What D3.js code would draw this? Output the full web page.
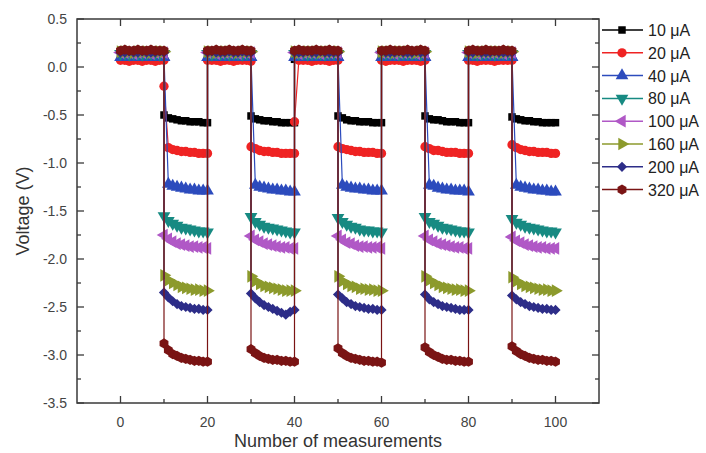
<!DOCTYPE html>
<html>
<head>
<meta charset="utf-8">
<script src="https://cdn.jsdelivr.net/npm/d3@7"></script>
<style>
  body { margin: 0; background: #fff; }
  svg { font-family: "Liberation Sans", Arial, sans-serif; }
</style>
</head>
<body>
<div id="chart"></div>
<script>
// each cycle: 11 points on the high level, then 11 points on the low level
let segmentStarts = [0, 10, 20, 30, 40, 50, 60, 70, 80, 90];

let labels = ['10 μA', '20 μA', '40 μA', '80 μA', '100 μA', '160 μA', '200 μA', '320 μA'];
let colors = ['#000000', '#ef2323', '#2c4bbd', '#178a82', '#b058c6', '#8c9a2c', '#2d2d88', '#7a1414'];

let v10 = [
  [0.09, 0.09, 0.08, 0.09, 0.09, 0.08, 0.09, 0.09, 0.08, 0.09, 0.09],
  [-0.50, -0.53, -0.54, -0.55, -0.56, -0.56, -0.57, -0.57, -0.57, -0.58, -0.58],
  [0.09, 0.09, 0.09, 0.08, 0.09, 0.09, 0.08, 0.09, 0.09, 0.09, 0.08],
  [-0.51, -0.54, -0.55, -0.56, -0.56, -0.57, -0.57, -0.58, -0.58, -0.58, -0.58],
  [0.08, 0.09, 0.09, 0.09, 0.08, 0.09, 0.09, 0.09, 0.08, 0.09, 0.09],
  [-0.51, -0.53, -0.55, -0.56, -0.56, -0.57, -0.57, -0.57, -0.58, -0.58, -0.58],
  [0.09, 0.08, 0.09, 0.09, 0.09, 0.08, 0.09, 0.09, 0.09, 0.08, 0.09],
  [-0.51, -0.54, -0.55, -0.55, -0.56, -0.57, -0.57, -0.57, -0.58, -0.58, -0.58],
  [0.09, 0.09, 0.08, 0.09, 0.09, 0.09, 0.08, 0.09, 0.09, 0.09, 0.09],
  [-0.52, -0.54, -0.55, -0.56, -0.56, -0.57, -0.57, -0.58, -0.58, -0.58, -0.58]
];
let v20 = [
  [0.07, 0.07, 0.06, 0.07, 0.07, 0.06, 0.07, 0.07, 0.06, 0.07, 0.07],
  [-0.20, -0.84, -0.86, -0.87, -0.88, -0.88, -0.89, -0.89, -0.90, -0.90, -0.90],
  [0.07, 0.07, 0.07, 0.06, 0.07, 0.07, 0.06, 0.07, 0.07, 0.07, 0.06],
  [-0.83, -0.85, -0.87, -0.88, -0.88, -0.89, -0.89, -0.90, -0.90, -0.90, -0.90],
  [-0.57, 0.07, 0.07, 0.07, 0.06, 0.07, 0.07, 0.07, 0.06, 0.07, 0.07],
  [-0.83, -0.85, -0.86, -0.87, -0.88, -0.88, -0.89, -0.89, -0.89, -0.90, -0.90],
  [0.07, 0.06, 0.07, 0.07, 0.07, 0.06, 0.07, 0.07, 0.07, 0.06, 0.07],
  [-0.83, -0.85, -0.87, -0.87, -0.88, -0.89, -0.89, -0.89, -0.90, -0.90, -0.90],
  [0.07, 0.07, 0.06, 0.07, 0.07, 0.07, 0.06, 0.07, 0.07, 0.07, 0.07],
  [-0.81, -0.84, -0.86, -0.87, -0.88, -0.88, -0.89, -0.89, -0.89, -0.90, -0.90]
];
let v40 = [
  [0.10, 0.10, 0.10, 0.10, 0.10, 0.10, 0.10, 0.10, 0.10, 0.10, 0.10],
  [0.10, -1.22, -1.24, -1.25, -1.26, -1.27, -1.28, -1.28, -1.29, -1.29, -1.29],
  [0.10, 0.10, 0.10, 0.10, 0.10, 0.10, 0.10, 0.10, 0.10, 0.10, 0.10],
  [0.10, -1.23, -1.25, -1.26, -1.27, -1.28, -1.28, -1.29, -1.29, -1.30, -1.30],
  [0.10, 0.10, 0.10, 0.10, 0.10, 0.10, 0.10, 0.10, 0.10, 0.10, 0.10],
  [0.10, -1.23, -1.25, -1.26, -1.27, -1.27, -1.28, -1.28, -1.29, -1.29, -1.29],
  [0.10, 0.10, 0.10, 0.10, 0.10, 0.10, 0.10, 0.10, 0.10, 0.10, 0.10],
  [0.10, -1.23, -1.24, -1.26, -1.27, -1.28, -1.28, -1.29, -1.29, -1.29, -1.30],
  [0.10, 0.10, 0.10, 0.10, 0.10, 0.10, 0.10, 0.10, 0.10, 0.10, 0.10],
  [0.10, -1.23, -1.25, -1.26, -1.27, -1.28, -1.28, -1.29, -1.29, -1.30, -1.30]
];
let v80 = [
  [0.14, 0.14, 0.13, 0.14, 0.14, 0.13, 0.14, 0.14, 0.14, 0.13, 0.14],
  [-1.55, -1.60, -1.63, -1.65, -1.67, -1.68, -1.69, -1.70, -1.71, -1.71, -1.72],
  [0.14, 0.13, 0.14, 0.14, 0.14, 0.13, 0.14, 0.14, 0.13, 0.14, 0.14],
  [-1.56, -1.61, -1.64, -1.66, -1.67, -1.68, -1.69, -1.70, -1.71, -1.72, -1.72],
  [0.14, 0.14, 0.14, 0.13, 0.14, 0.14, 0.14, 0.13, 0.14, 0.14, 0.14],
  [-1.57, -1.61, -1.64, -1.66, -1.67, -1.69, -1.70, -1.70, -1.71, -1.71, -1.72],
  [0.13, 0.14, 0.14, 0.14, 0.13, 0.14, 0.14, 0.14, 0.14, 0.13, 0.14],
  [-1.56, -1.61, -1.63, -1.65, -1.67, -1.68, -1.69, -1.70, -1.71, -1.71, -1.72],
  [0.14, 0.14, 0.13, 0.14, 0.14, 0.14, 0.13, 0.14, 0.14, 0.14, 0.14],
  [-1.58, -1.62, -1.64, -1.66, -1.67, -1.68, -1.69, -1.70, -1.71, -1.71, -1.72]
];
let v100 = [
  [0.15, 0.15, 0.15, 0.14, 0.15, 0.15, 0.15, 0.14, 0.15, 0.15, 0.15],
  [-1.75, -1.79, -1.82, -1.84, -1.85, -1.86, -1.87, -1.87, -1.88, -1.88, -1.89],
  [0.15, 0.15, 0.14, 0.15, 0.15, 0.15, 0.15, 0.14, 0.15, 0.15, 0.15],
  [-1.76, -1.80, -1.82, -1.84, -1.85, -1.86, -1.87, -1.88, -1.88, -1.89, -1.89],
  [0.15, 0.14, 0.15, 0.15, 0.15, 0.15, 0.14, 0.15, 0.15, 0.15, 0.15],
  [-1.76, -1.80, -1.83, -1.84, -1.86, -1.87, -1.87, -1.88, -1.88, -1.88, -1.89],
  [0.15, 0.15, 0.15, 0.14, 0.15, 0.15, 0.15, 0.15, 0.14, 0.15, 0.15],
  [-1.76, -1.80, -1.82, -1.84, -1.85, -1.86, -1.87, -1.88, -1.88, -1.89, -1.89],
  [0.15, 0.15, 0.14, 0.15, 0.15, 0.15, 0.15, 0.15, 0.14, 0.15, 0.15],
  [-1.77, -1.81, -1.83, -1.85, -1.86, -1.87, -1.88, -1.88, -1.89, -1.89, -1.89]
];
let v160 = [
  [0.16, 0.16, 0.16, 0.15, 0.16, 0.16, 0.16, 0.15, 0.16, 0.16, 0.16],
  [-2.17, -2.22, -2.25, -2.27, -2.29, -2.30, -2.31, -2.32, -2.32, -2.33, -2.33],
  [0.16, 0.16, 0.15, 0.16, 0.16, 0.16, 0.16, 0.15, 0.16, 0.16, 0.16],
  [-2.18, -2.23, -2.26, -2.28, -2.29, -2.30, -2.31, -2.32, -2.33, -2.33, -2.33],
  [0.16, 0.15, 0.16, 0.16, 0.16, 0.16, 0.15, 0.16, 0.16, 0.16, 0.16],
  [-2.18, -2.23, -2.26, -2.28, -2.29, -2.31, -2.31, -2.32, -2.32, -2.33, -2.33],
  [0.16, 0.16, 0.16, 0.15, 0.16, 0.16, 0.16, 0.16, 0.15, 0.16, 0.16],
  [-2.18, -2.22, -2.25, -2.27, -2.29, -2.30, -2.31, -2.32, -2.32, -2.33, -2.33],
  [0.16, 0.16, 0.15, 0.16, 0.16, 0.16, 0.16, 0.16, 0.15, 0.16, 0.16],
  [-2.19, -2.23, -2.26, -2.28, -2.29, -2.30, -2.31, -2.32, -2.32, -2.33, -2.33]
];
let v200 = [
  [0.15, 0.15, 0.16, 0.15, 0.15, 0.16, 0.15, 0.15, 0.15, 0.16, 0.15],
  [-2.35, -2.40, -2.44, -2.47, -2.49, -2.50, -2.51, -2.52, -2.52, -2.53, -2.53],
  [0.15, 0.16, 0.15, 0.15, 0.15, 0.16, 0.15, 0.15, 0.16, 0.15, 0.15],
  [-2.36, -2.41, -2.45, -2.48, -2.50, -2.52, -2.54, -2.56, -2.58, -2.55, -2.53],
  [0.15, 0.15, 0.15, 0.16, 0.15, 0.15, 0.16, 0.15, 0.15, 0.15, 0.15],
  [-2.37, -2.41, -2.45, -2.47, -2.49, -2.50, -2.51, -2.52, -2.52, -2.53, -2.53],
  [0.16, 0.15, 0.15, 0.15, 0.16, 0.15, 0.15, 0.15, 0.16, 0.15, 0.15],
  [-2.37, -2.42, -2.45, -2.47, -2.49, -2.50, -2.51, -2.52, -2.53, -2.53, -2.53],
  [0.15, 0.15, 0.16, 0.15, 0.15, 0.15, 0.16, 0.15, 0.15, 0.15, 0.15],
  [-2.38, -2.42, -2.45, -2.47, -2.49, -2.50, -2.51, -2.52, -2.52, -2.53, -2.53]
];
let v320 = [
  [0.17, 0.18, 0.17, 0.17, 0.18, 0.17, 0.17, 0.18, 0.17, 0.17, 0.17],
  [-2.88, -2.95, -2.99, -3.01, -3.03, -3.04, -3.05, -3.06, -3.06, -3.07, -3.07],
  [0.17, 0.17, 0.18, 0.17, 0.17, 0.18, 0.17, 0.17, 0.18, 0.17, 0.17],
  [-2.94, -2.98, -3.01, -3.03, -3.04, -3.05, -3.05, -3.06, -3.06, -3.07, -3.07],
  [0.17, 0.18, 0.17, 0.17, 0.17, 0.18, 0.17, 0.17, 0.18, 0.17, 0.17],
  [-2.93, -2.98, -3.01, -3.03, -3.04, -3.05, -3.06, -3.06, -3.07, -3.07, -3.08],
  [0.17, 0.17, 0.18, 0.17, 0.17, 0.17, 0.18, 0.17, 0.17, 0.18, 0.17],
  [-2.92, -2.97, -3.00, -3.02, -3.04, -3.05, -3.05, -3.06, -3.06, -3.07, -3.07],
  [0.17, 0.18, 0.17, 0.17, 0.18, 0.17, 0.17, 0.17, 0.18, 0.17, 0.17],
  [-2.91, -2.96, -2.99, -3.01, -3.03, -3.04, -3.05, -3.05, -3.06, -3.06, -3.07]
];

let seriesValues = [v10, v20, v40, v80, v100, v160, v200, v320];

let xTicks = [0, 20, 40, 60, 80, 100];
let xMinorTicks = [10, 30, 50, 70, 90];
let yTicks = [-3.5, -3.0, -2.5, -2.0, -1.5, -1.0, -0.5, 0.0, 0.5];
let yMinorTicks = [-3.25, -2.75, -2.25, -1.75, -1.25, -0.75, -0.25, 0.25];

let width = 706;
let height = 453;
let margin = { left: 77, right: 107, top: 19, bottom: 50 };

let x = d3.scaleLinear().domain([-10, 110]).range([margin.left, width - margin.right]);
let y = d3.scaleLinear().domain([-3.5, 0.5]).range([height - margin.bottom, margin.top]);

let svg = d3.select('#chart')
  .append('svg')
  .attr('width', width)
  .attr('height', height);

// marker shapes (Origin style)
let hexagon = {
  draw(ctx, size) {
    let r = Math.sqrt(size / (1.5 * Math.sqrt(3)));
    for (let i = 0; i < 6; i++) {
      let a = Math.PI / 6 + i * Math.PI / 3;
      if (i === 0) ctx.moveTo(r * Math.cos(a), r * Math.sin(a));
      else ctx.lineTo(r * Math.cos(a), r * Math.sin(a));
    }
    ctx.closePath();
  }
};
let markers = [
  { type: d3.symbolSquare, size: 56, rotate: 0 },
  { type: d3.symbolCircle, size: 68, rotate: 0 },
  { type: d3.symbolTriangle, size: 70, rotate: 0 },
  { type: d3.symbolTriangle, size: 70, rotate: 180 },
  { type: d3.symbolTriangle, size: 70, rotate: -90 },
  { type: d3.symbolTriangle, size: 70, rotate: 90 },
  { type: d3.symbolSquare, size: 52, rotate: 45 },
  { type: hexagon, size: 68, rotate: 0 }
];

// build point lists from the segment arrays
let series = seriesValues.map((segs, i) => {
  let pts = [];
  segs.forEach((seg, s) => {
    seg.forEach((v, k) => pts.push({ x: segmentStarts[s] + k, y: v }));
  });
  return { label: labels[i], color: colors[i], marker: markers[i], points: pts };
});

let line = d3.line().x(d => x(d.x)).y(d => y(d.y));

let plot = svg.append('g');
series.forEach(s => {
  let g = plot.append('g');
  g.append('path')
    .attr('d', line(s.points))
    .attr('fill', 'none')
    .attr('stroke', s.color)
    .attr('stroke-width', 1.2);
  g.selectAll('path.pt')
    .data(s.points)
    .enter()
    .append('path')
    .attr('class', 'pt')
    .attr('d', d3.symbol().type(s.marker.type).size(s.marker.size))
    .attr('transform', d => `translate(${x(d.x)},${y(d.y)}) rotate(${s.marker.rotate})`)
    .attr('fill', s.color);
});

// frame and ticks
let axisColor = '#3a3a3a';
let x0 = x.range()[0], x1 = x.range()[1];
let y0 = y.range()[0], y1 = y.range()[1];

svg.append('rect')
  .attr('x', x0).attr('y', y1)
  .attr('width', x1 - x0).attr('height', y0 - y1)
  .attr('fill', 'none')
  .attr('stroke', axisColor)
  .attr('stroke-width', 1.5);

let ticks = svg.append('g').attr('stroke', axisColor).attr('stroke-width', 1.3);
xTicks.concat(xMinorTicks).forEach(t => {
  let len = xTicks.includes(t) ? 7 : 4;
  ticks.append('line').attr('x1', x(t)).attr('x2', x(t)).attr('y1', y0).attr('y2', y0 - len);
  ticks.append('line').attr('x1', x(t)).attr('x2', x(t)).attr('y1', y1).attr('y2', y1 + len);
});
yTicks.concat(yMinorTicks).forEach(t => {
  let len = yTicks.includes(t) ? 7 : 4;
  ticks.append('line').attr('y1', y(t)).attr('y2', y(t)).attr('x1', x0).attr('x2', x0 + len);
  ticks.append('line').attr('y1', y(t)).attr('y2', y(t)).attr('x1', x1).attr('x2', x1 - len);
});

let labelColor = '#444';
svg.append('g')
  .selectAll('text')
  .data(xTicks)
  .enter()
  .append('text')
  .attr('x', d => x(d))
  .attr('y', y0 + 24)
  .attr('text-anchor', 'middle')
  .attr('font-size', 14)
  .attr('fill', labelColor)
  .text(d => d);

svg.append('g')
  .selectAll('text')
  .data(yTicks)
  .enter()
  .append('text')
  .attr('x', x0 - 10)
  .attr('y', d => y(d) + 5)
  .attr('text-anchor', 'end')
  .attr('font-size', 14)
  .attr('fill', labelColor)
  .text(d => d.toFixed(1));

svg.append('text')
  .attr('x', (x0 + x1) / 2)
  .attr('y', 447)
  .attr('text-anchor', 'middle')
  .attr('font-size', 18)
  .attr('fill', '#333')
  .text('Number of measurements');

svg.append('text')
  .attr('transform', `translate(29,${(y0 + y1) / 2}) rotate(-90)`)
  .attr('text-anchor', 'middle')
  .attr('font-size', 18)
  .attr('fill', '#333')
  .text('Voltage (V)');

// legend
let legend = svg.append('g')
  .selectAll('g')
  .data(series)
  .enter()
  .append('g')
  .attr('transform', (d, i) => `translate(602,${30 + i * 22.8})`);

legend.append('line')
  .attr('x1', 0).attr('x2', 41)
  .attr('stroke', d => d.color)
  .attr('stroke-width', 1.5);

legend.append('path')
  .attr('d', d => d3.symbol().type(d.marker.type).size(d.marker.size)())
  .attr('transform', d => `translate(20,0) rotate(${d.marker.rotate})`)
  .attr('fill', d => d.color);

legend.append('text')
  .attr('x', 46)
  .attr('y', 6)
  .attr('font-size', 16)
  .attr('fill', '#222')
  .text(d => d.label);
</script>
</body>
</html>
